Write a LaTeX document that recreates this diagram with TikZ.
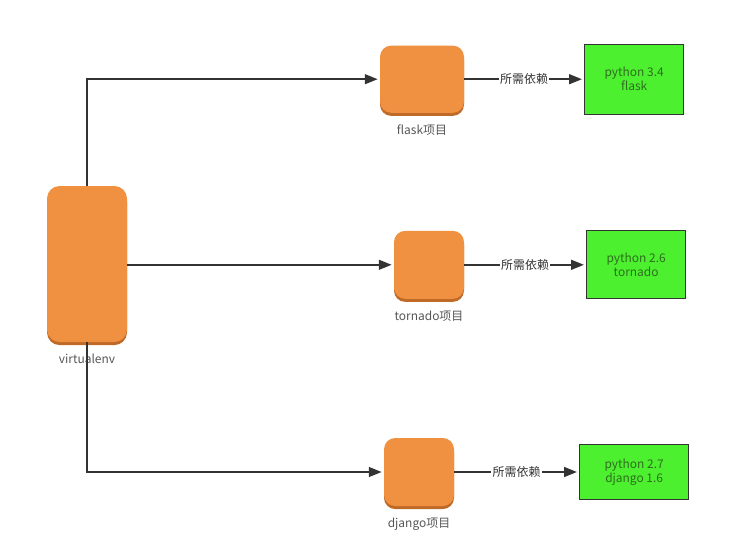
\documentclass[tikz,border=0pt]{standalone}
\usepackage{fontspec}
\setmainfont{Noto Sans CJK SC}
\usetikzlibrary{arrows.meta,positioning,shadows}
\definecolor{BoxOrange}  {HTML}{EF9140}
\definecolor{ShadeOrange}{HTML}{C06A28}
\definecolor{EnvGreen}   {HTML}{4CF02F}
\definecolor{EnvText}    {HTML}{2F6E1E}
\definecolor{LabelGray}  {HTML}{555555}
\definecolor{LineGray}   {HTML}{333333}
\tikzset{
  obox/.style={rectangle,rounded corners=#1,fill=BoxOrange,draw=none,
               drop shadow={shadow xshift=0pt,shadow yshift=-2.2pt,
                            fill=ShadeOrange,opacity=1}},
  gbox/.style={rectangle,fill=EnvGreen,draw=black!80,line width=0.9pt,
               align=center,font=\fontsize{8.5}{10}\selectfont\color{EnvText}},
  lbl/.style={font=\fontsize{8.5}{10}\selectfont\color{LabelGray}},
  arr/.style={-{Triangle[length=9pt,width=7pt]},line width=1pt,color=LineGray,
              shorten >=1.5pt},
  dep/.style={fill=white,inner sep=1pt,font=\fontsize{8.5}{10}\selectfont\color{LabelGray}},
}

\begin{document}
\begin{tikzpicture}
  \useasboundingbox (0,0) rectangle (18.275,-13.8);

  % virtualenv
  \node[obox=9pt,minimum width=2cm,minimum height=3.9cm,
        label={[lbl,yshift=-5pt]below:virtualenv}] (venv) at (2.175,-6.6) {};

  % projects
  \node[obox=8pt,minimum width=2.1cm,minimum height=1.68cm,
        label={[lbl,yshift=-5pt]below:flask项目}] (flask) at (10.55,-1.98) {};
  \node[obox=8pt,minimum width=1.75cm,minimum height=1.7cm,
        label={[lbl,yshift=-5pt]below:tornado项目}] (tornado) at (10.725,-6.62) {};
  \node[obox=8pt,minimum width=1.75cm,minimum height=1.7cm,
        label={[lbl,yshift=-5pt]below:django项目}] (django) at (10.475,-11.8) {};

  % environments
  \node[gbox,minimum width=2.475cm,minimum height=1.75cm,anchor=west]
    (env1) at (14.6,-1.98) {python 3.4\\flask};
  \node[gbox,minimum width=2.475cm,minimum height=1.7cm,anchor=west]
    (env2) at (14.65,-6.62) {python 2.6\\tornado};
  \node[gbox,minimum width=2.725cm,minimum height=1.375cm,anchor=west]
    (env3) at (14.475,-11.8) {python 2.7\\django 1.6};

  % connectors
  \draw[arr] (venv.north) |- (flask.west);
  \draw[arr] (venv.east |- tornado.west) -- (tornado.west);
  \draw[arr] (venv.south) |- (django.west);

  \draw[arr] (flask.east) -- node[dep]{所需依赖} (env1.west);
  \draw[arr] (tornado.east) -- node[dep]{所需依赖} (env2.west);
  \draw[arr] (django.east) -- node[dep]{所需依赖} (env3.west);

\end{tikzpicture}
\end{document}
